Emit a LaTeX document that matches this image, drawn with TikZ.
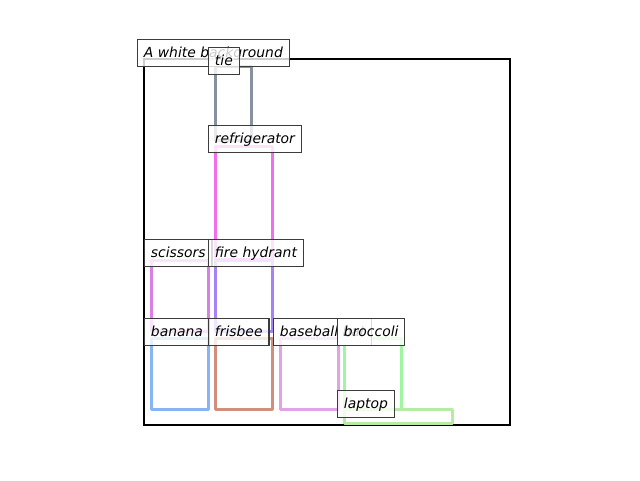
\documentclass[tikz,border=0pt]{standalone}
\usepackage{fontspec}
\setmainfont{DejaVu Sans}
\usetikzlibrary{positioning}

\definecolor{tiecol}{RGB}{135,145,160}
\definecolor{fridgecol}{RGB}{242,110,238}
\definecolor{scissorcol}{RGB}{218,128,228}
\definecolor{hydrantcol}{RGB}{165,130,248}
\definecolor{bananacol}{RGB}{135,180,245}
\definecolor{frisbeecol}{RGB}{208,142,125}
\definecolor{batcol}{RGB}{226,162,230}
\definecolor{broccolicol}{RGB}{160,245,160}
\definecolor{laptopcol}{RGB}{182,236,162}
\definecolor{edgecol}{RGB}{60,60,60}

\tikzset{
  objbox/.style={line width=3pt, line join=round, draw=#1},
  tag/.style={draw=edgecol, line width=1.1pt, fill=white, fill opacity=0.8,
    text opacity=1, anchor=south west, inner xsep=6.4pt, inner ysep=0pt,
    text height=10.5pt, text depth=1.5pt,
    minimum height=27pt, font=\fontsize{13.9}{16}\selectfont\itshape}
}

\begin{document}
\begin{tikzpicture}[x=1pt,y=-1pt]
      \useasboundingbox (0,0) rectangle (640,480);
      % frame
      \draw[line width=2.2pt] (144,59) rectangle (510,425);
      % boxes
      \draw[objbox=tiecol] (215,66) rectangle (251,140);
      \draw[objbox=fridgecol] (215,146) rectangle (272,259);
      \draw[objbox=scissorcol] (151,260) rectangle (208,331);
      \draw[objbox=hydrantcol] (215,260) rectangle (272,331);
      \draw[objbox=bananacol] (151,338) rectangle (208,409);
      \draw[objbox=frisbeecol] (215,338) rectangle (272,409);
      \draw[objbox=batcol] (280,338) rectangle (338,409);
      \draw[objbox=broccolicol] (344,338) rectangle (401,409);
      \draw[objbox=laptopcol] (344,409) rectangle (452,423);
      % labels
      \node[tag] (bg) at (137,67) {A white background};
      \node[tag] (tie) at (208,75) {tie};
      \node[tag] (fridge) at (208,153) {refrigerator};
      \node[tag] (scissors) at (144,267) {scissors};
      \node[tag] (hydrant) at (208,267) {fire hydrant};
      \node[tag] (banana) at (144,346) {banana};
      \node[tag] (frisbee) at (208,346) {frisbee};
      \node[tag] (bat) at (273,346) {baseball bat};
      \node[tag] (broccoli) at (337,346) {broccoli};
      \node[tag] (laptop) at (337,418) {laptop};
\end{tikzpicture}
\end{document}
